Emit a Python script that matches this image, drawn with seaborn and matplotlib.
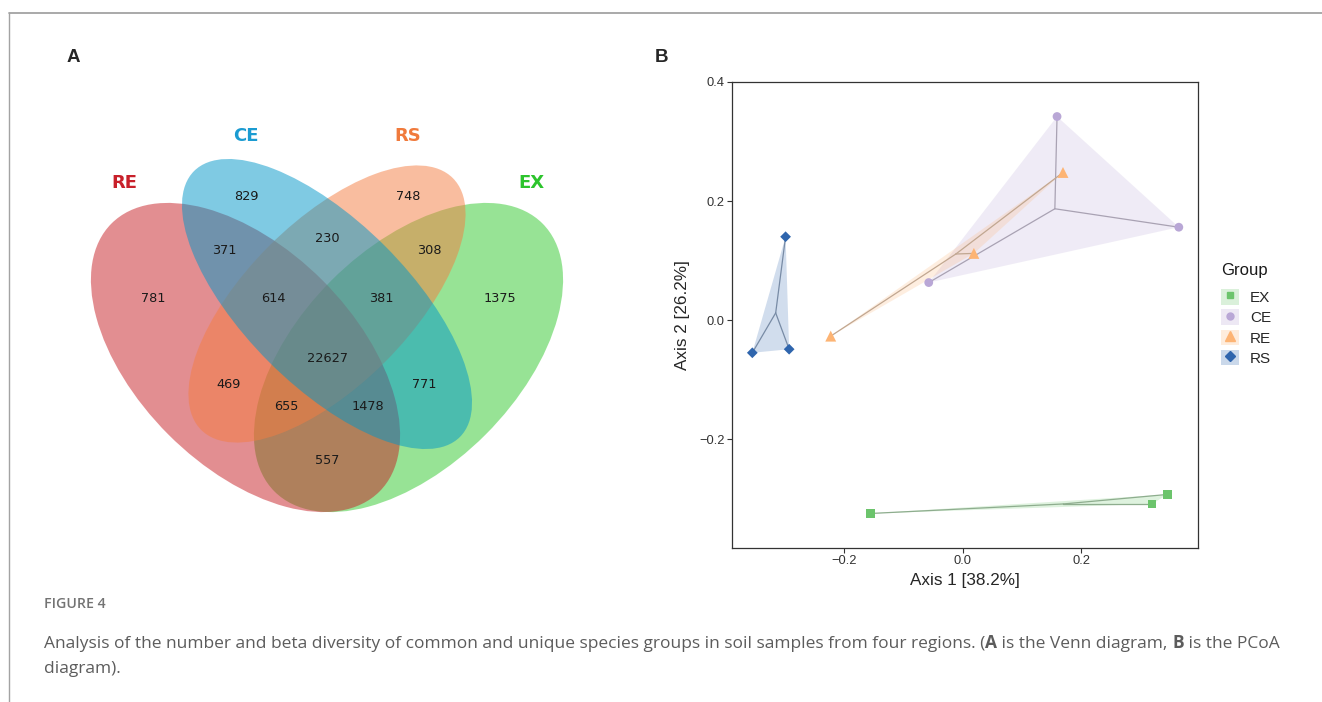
import numpy as np
import pandas as pd
import matplotlib.pyplot as plt
import seaborn as sns
from matplotlib.patches import Ellipse, Patch
from matplotlib.lines import Line2D
from matplotlib.colors import to_rgb

sns.set_style('white')
plt.rcParams['font.family'] = ['DejaVu Sans']

# ---- Venn data (panel A) ----
venn_sets = ['RE', 'CE', 'RS', 'EX']
venn_colors = ['#c71f25', '#0096c8', '#f57d41', '#31c92d']
venn_label_colors = ['#c8202a', '#1b9bd1', '#f07a3c', '#2dc42d']
venn_regions = ['RE', 'CE', 'RS', 'EX', 'RE&CE', 'CE&RS', 'RS&EX', 'RE&CE&RS',
                'CE&RS&EX', 'RE&CE&RS&EX', 'RE&RS', 'CE&EX', 'RE&RS&EX',
                'RE&CE&EX', 'RE&EX']
venn_counts = [781, 829, 748, 1375, 371, 230, 308, 614,
               381, 22627, 469, 771, 655, 1478, 557]

# ---- PCoA data (panel B) ----
groups = ['EX', 'CE', 'RE', 'RS']
sample_group = ['EX', 'EX', 'EX', 'CE', 'CE', 'CE', 'RE', 'RE', 'RE', 'RS', 'RS', 'RS']
axis1 = [-0.155, 0.345, 0.319, -0.057, 0.159, 0.364, -0.222, 0.019, 0.169, -0.354, -0.298, -0.292]
axis2 = [-0.325, -0.293, -0.309, 0.063, 0.342, 0.156, -0.027, 0.112, 0.248, -0.055, 0.140, -0.049]
palette = {'EX': '#6cc46c', 'CE': '#b9a7d6', 'RE': '#fdb474', 'RS': '#2f65ad'}
markers = {'EX': 's', 'CE': 'o', 'RE': '^', 'RS': 'D'}

fig = plt.figure(figsize=(13.22, 7.02), dpi=100)

# overlay axes in pixel units, used for the Venn and the page furniture
ov = fig.add_axes([0, 0, 1, 1])
ov.set_xlim(0, 1322)
ov.set_ylim(702, 0)
ov.axis('off')

ov.plot([9, 1322], [13, 13], color='#a3a3a3', lw=1.3)
ov.plot([9, 9], [13, 702], color='#a3a3a3', lw=1.0)

# ellipses: (center x, center y, width, height, angle), drawn EX, RE, RS, CE
shapes = {'RE': (245.5, 357.5, 379, 218, 45),
          'CE': (327, 304, 376, 164, 45),
          'RS': (327, 304, 356, 164, -45),
          'EX': (408.5, 357.5, 379, 218, -45)}
for name in ['EX', 'RE', 'RS', 'CE']:
    cx, cy, w, h, ang = shapes[name]
    col = venn_colors[venn_sets.index(name)]
    ov.add_patch(Ellipse((cx, cy), w, h, angle=ang, facecolor=col, alpha=0.5, edgecolor='none'))

count_pos = {'RE': (153, 298), 'CE': (246, 196), 'RS': (408, 196), 'EX': (500, 298),
             'RE&CE': (224, 250), 'CE&RS': (327, 239), 'RS&EX': (429, 250),
             'RE&CE&RS': (273, 298), 'CE&RS&EX': (381, 298), 'RE&CE&RS&EX': (327, 358),
             'RE&RS': (229, 385), 'CE&EX': (424, 385), 'RE&RS&EX': (286, 407),
             'RE&CE&EX': (368, 407), 'RE&EX': (327, 461)}
for reg, n in zip(venn_regions, venn_counts):
    x, y = count_pos[reg]
    ov.text(x, y, str(n), ha='center', va='center', fontsize=9.3, color='#1a1a1a')

name_pos = {'RE': (124, 183), 'CE': (246, 136), 'RS': (408, 136), 'EX': (531, 183)}
for name, col in zip(venn_sets, venn_label_colors):
    x, y = name_pos[name]
    ov.text(x, y, name, ha='center', va='center', fontsize=13, color=col, fontweight='semibold')

ov.text(73, 57, 'A', ha='center', va='center', fontsize=13.5, fontweight='bold', family='Liberation Sans')
ov.text(661, 57, 'B', ha='center', va='center', fontsize=13.5, fontweight='bold', family='Liberation Sans')

# caption
cap = dict(fontsize=12.5, color='#5c5c5c', family='Open Sans')
ov.text(44, 604, 'FIGURE 4', ha='left', va='center', fontsize=10.2, color='#737373',
        family='Open Sans', fontweight='semibold')
t = ov.text(44, 644, 'Analysis of the number and beta diversity of common and unique species '
            'groups in soil samples from four regions. (', ha='left', va='center', **cap)
pieces = [('A', 'bold'), (' is the Venn diagram, ', 'normal'), ('B', 'bold'), (' is the PCoA', 'normal')]
for txt, wt in pieces:
    t = ov.annotate(txt, xy=(1, 0), xycoords=t, ha='left', va='bottom', fontweight=wt, **cap)
ov.text(44, 669, 'diagram).', ha='left', va='center', **cap)

# ---- panel B ----
axb = fig.add_axes([732 / 1322, 1 - 548 / 702, 466 / 1322, 466 / 702])
df = pd.DataFrame({'Axis1': axis1, 'Axis2': axis2, 'Group': sample_group})

for g in groups:
    sub = df[df['Group'] == g]
    c = palette[g]
    axb.fill(sub['Axis1'], sub['Axis2'], color=c, alpha=0.22, lw=0, zorder=1)
    cx, cy = sub['Axis1'].mean(), sub['Axis2'].mean()
    lc = 0.35 * np.array(to_rgb(c)) + 0.65 * np.array(to_rgb('#a0a0a0'))
    for x, y in zip(sub['Axis1'], sub['Axis2']):
        axb.plot([cx, x], [cy, y], color=lc, lw=0.9, zorder=2)

sns.scatterplot(data=df, x='Axis1', y='Axis2', hue='Group', style='Group', size='Group',
                palette=palette, markers=markers,
                sizes={'EX': 40, 'CE': 40, 'RE': 62, 'RS': 30},
                linewidth=0, legend=False, ax=axb, zorder=3)

axb.set_xlim(-0.3882, 0.3963)
axb.set_ylim(-0.383, 0.400)
axb.set_xticks([-0.2, 0.0, 0.2])
axb.set_yticks([-0.2, 0.0, 0.2, 0.4])
axb.set_xticklabels(['\u22120.2', '0.0', '0.2'])
axb.set_yticklabels(['\u22120.2', '0.0', '0.2', '0.4'])
axb.tick_params(direction='out', length=3.3, width=0.8, colors='#333333', labelsize=9.3, pad=2,
                left=True, bottom=True)
for lab in axb.get_xticklabels() + axb.get_yticklabels():
    lab.set_family('Liberation Sans')
for sp in axb.spines.values():
    sp.set_color('#333333')
    sp.set_linewidth(0.9)
axb.set_xlabel('Axis 1 [38.2%]', fontsize=12.3, family='Liberation Sans')
axb.set_ylabel('Axis 2 [26.2%]', fontsize=12.3, family='Liberation Sans')
axb.xaxis.set_label_coords(0.5, -(580 - 548) / 466)
axb.yaxis.set_label_coords(-(732 - 683) / 466, 0.5)
axb.xaxis.label.set_va('center')
axb.yaxis.label.set_va('center')

fig.text(1221 / 1322, 1 - 271 / 702, 'Group', ha='left', va='center', fontsize=12,
         family='Liberation Sans', color='#1a1a1a')
handles = [(Patch(facecolor=palette[g], alpha=0.25, edgecolor='none'),
            Line2D([], [], marker=markers[g], color=palette[g], linestyle='none',
                   markersize=7 if g == 'RE' else 5))
           for g in groups]
leg = axb.legend(handles, groups, loc='upper left',
                 bbox_to_anchor=(1221 / 1322, 1 - 289 / 702), bbox_transform=fig.transFigure,
                 frameon=False, handlelength=1.2, handleheight=1.2, handletextpad=0.7,
                 labelspacing=0.28, borderpad=0, borderaxespad=0,
                 prop={'family': 'Liberation Sans', 'size': 11})

fig.savefig('out.png', dpi=100)
